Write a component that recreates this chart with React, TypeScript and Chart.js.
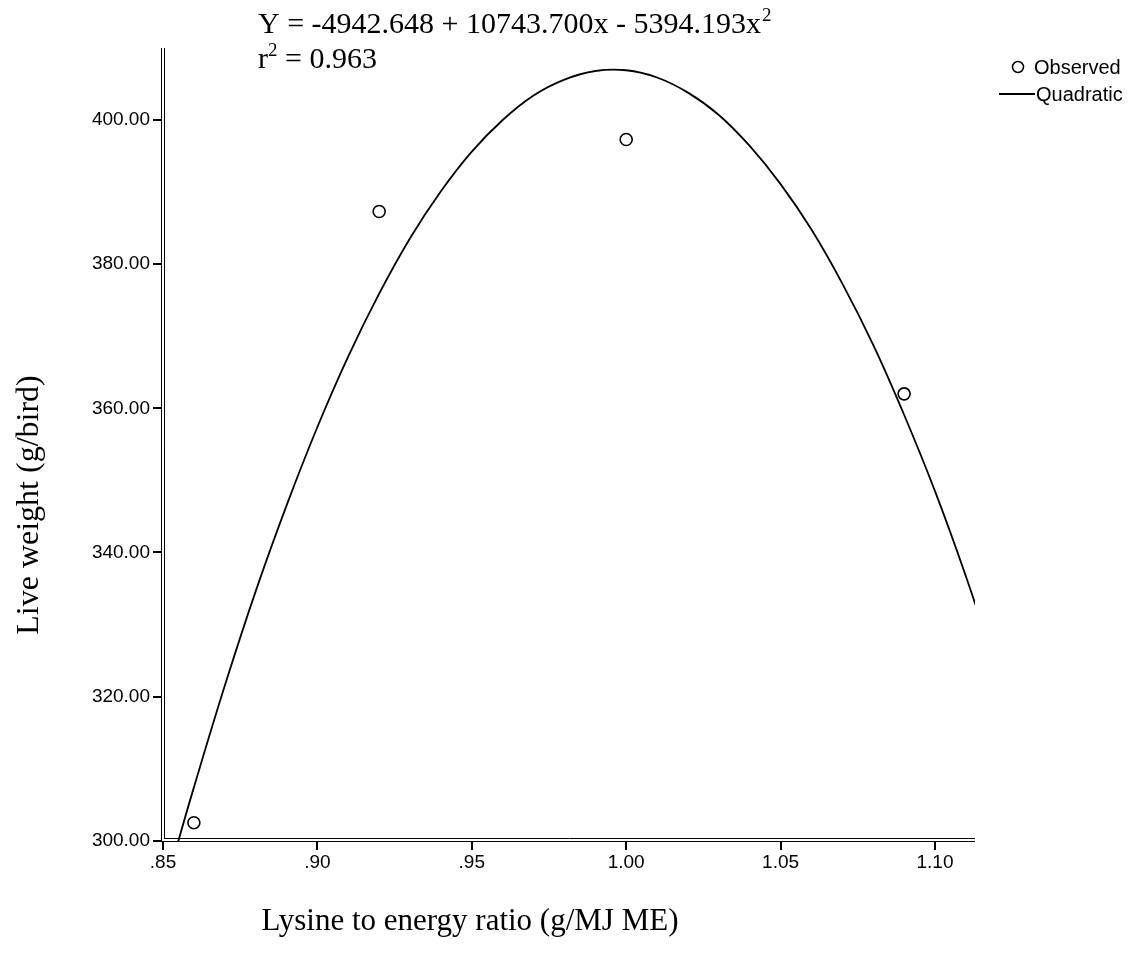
import React, { useEffect, useRef } from "react";
import { Chart, registerables } from "chart.js";

Chart.register(...registerables);

// Observed data points
const observedX = [0.86, 0.92, 1.0, 1.09];
const observedY = [302.5, 387.3, 397.3, 362.0];

// Quadratic fit curve
const curveX = [0.85, 0.855, 0.86, 0.87, 0.88, 0.89, 0.9, 0.91, 0.92, 0.93, 0.94, 0.95, 0.96, 0.97, 0.98, 0.99, 1.0, 1.01, 1.02, 1.03, 1.04, 1.05, 1.06, 1.07, 1.08, 1.09, 1.1, 1.11, 1.12];
const curveY = [292.2, 300.0, 307.4, 321.5, 334.6, 346.5, 357.4, 367.2, 375.9, 383.6, 390.1, 395.6, 400.0, 403.4, 405.6, 406.8, 406.9, 405.9, 403.8, 400.7, 396.4, 391.1, 384.8, 377.3, 368.8, 359.1, 348.5, 336.7, 323.8];

const xTicks = [0.85, 0.9, 0.95, 1.0, 1.05, 1.1];
const xTickLabels = [".85", ".90", ".95", "1.00", "1.05", "1.10"];
const yTicks = [300, 320, 340, 360, 380, 400];
const yTickLabels = ["300.00", "320.00", "340.00", "360.00", "380.00", "400.00"];

const equationText = "Y = -4942.648 + 10743.700x - 5394.193x";
const equationSup = "2";
const r2Base = "r";
const r2Sup = "2";
const r2Rest = " = 0.963";
const xTitle = "Lysine to energy ratio (g/MJ ME)";
const yTitle = "Live weight (g/bird)";
const legendLabels = ["Observed", "Quadratic"];

const W = 1142;
const H = 978;
const SERIF = '"Liberation Serif", "Times New Roman", serif';
const SANS = '"Liberation Sans", Arial, sans-serif';

const decorPlugin = {
  id: "decor",
  afterDraw(chart: any) {
    const ctx = chart.ctx as CanvasRenderingContext2D;
    const a = chart.chartArea;
    ctx.save();
    // double axis lines
    ctx.strokeStyle = "#000";
    ctx.lineWidth = 1;
    ctx.beginPath();
    ctx.moveTo(a.left + 0.5, a.top);
    ctx.lineTo(a.left + 0.5, a.bottom);
    ctx.moveTo(a.left + 3.5, a.top);
    ctx.lineTo(a.left + 3.5, a.bottom - 3);
    ctx.moveTo(a.left, a.bottom - 0.5);
    ctx.lineTo(a.right, a.bottom - 0.5);
    ctx.moveTo(a.left + 3, a.bottom - 3.5);
    ctx.lineTo(a.right, a.bottom - 3.5);
    ctx.stroke();

    ctx.fillStyle = "#000";
    // equation
    ctx.font = `30px ${SERIF}`;
    ctx.textBaseline = "alphabetic";
    ctx.textAlign = "left";
    const ex = 258;
    ctx.fillText(equationText, ex, 33);
    const ew = ctx.measureText(equationText).width;
    ctx.font = `19px ${SERIF}`;
    ctx.fillText(equationSup, ex + ew + 1, 21);
    // r^2
    ctx.font = `30px ${SERIF}`;
    ctx.fillText(r2Base, ex, 68);
    const rw = ctx.measureText(r2Base).width;
    ctx.font = `19px ${SERIF}`;
    ctx.fillText(r2Sup, ex + rw, 56);
    const sw = ctx.measureText(r2Sup).width;
    ctx.font = `30px ${SERIF}`;
    ctx.fillText(r2Rest, ex + rw + sw, 68);

    // axis titles
    ctx.font = `31px ${SERIF}`;
    ctx.textAlign = "center";
    ctx.textBaseline = "middle";
    ctx.fillText(xTitle, 470, 922);
    ctx.save();
    ctx.translate(30, 505);
    ctx.rotate(-Math.PI / 2);
    ctx.font = `32px ${SERIF}`;
    ctx.fillText(yTitle, 0, 0);
    ctx.restore();

    // legend
    ctx.font = `20px ${SANS}`;
    ctx.textAlign = "left";
    ctx.textBaseline = "middle";
    ctx.lineWidth = 1.5;
    ctx.beginPath();
    ctx.arc(1018, 67, 5.5, 0, Math.PI * 2);
    ctx.fillStyle = "#fff";
    ctx.fill();
    ctx.stroke();
    ctx.fillStyle = "#000";
    ctx.fillText(legendLabels[0], 1034, 68);
    ctx.lineWidth = 2;
    ctx.beginPath();
    ctx.moveTo(999, 94);
    ctx.lineTo(1035, 94);
    ctx.stroke();
    ctx.fillText(legendLabels[1], 1036, 95);
    ctx.restore();
  },
};

export default function App() {
  const ref = useRef<HTMLCanvasElement>(null);
  useEffect(() => {
    if (!ref.current) return;
    const chart = new Chart(ref.current, {
      type: "scatter",
      data: {
        datasets: [
          {
            type: "line",
            label: legendLabels[1],
            data: curveX.map((x, i) => ({ x, y: curveY[i] })),
            borderColor: "#000",
            borderWidth: 1.8,
            pointRadius: 0,
            tension: 0.4,
            fill: false,
          } as any,
          {
            label: legendLabels[0],
            data: observedX.map((x, i) => ({ x, y: observedY[i] })),
            pointStyle: "circle",
            pointRadius: 6,
            pointBorderWidth: 1.6,
            pointBorderColor: "#000",
            pointBackgroundColor: "#fff",
            borderColor: "#000",
            backgroundColor: "#fff",
          },
        ],
      },
      options: {
        responsive: false,
        animation: false,
        layout: { padding: { left: 0, top: 48, right: 167, bottom: 0 } },
        plugins: { legend: { display: false }, tooltip: { enabled: false } },
        scales: {
          x: {
            type: "linear",
            min: 0.84935,
            max: 1.11296,
            afterFit: (s: any) => {
              s.height = 136;
            },
            afterBuildTicks: (s: any) => {
              s.ticks = xTicks.map((v) => ({ value: v }));
            },
            ticks: {
              color: "#000",
              font: { family: SANS, size: 19 },
              padding: 1,
              maxRotation: 0,
              autoSkip: false,
              callback: (_v: any, i: number) => xTickLabels[i],
            },
            grid: { drawOnChartArea: false, drawTicks: true, tickLength: 8, color: "#000", lineWidth: 2 },
            border: { display: false },
          },
          y: {
            type: "linear",
            min: 299.82,
            max: 409.99,
            afterFit: (s: any) => {
              s.width = 161;
            },
            afterBuildTicks: (s: any) => {
              s.ticks = yTicks.map((v) => ({ value: v }));
            },
            ticks: {
              color: "#000",
              font: { family: SANS, size: 19 },
              padding: 3,
              autoSkip: false,
              callback: (_v: any, i: number) => yTickLabels[i],
            },
            grid: { drawOnChartArea: false, drawTicks: true, tickLength: 8, color: "#000", lineWidth: 2 },
            border: { display: false },
          },
        },
      },
      plugins: [decorPlugin],
    });
    return () => chart.destroy();
  }, []);
  return (
    <div style={{ position: "absolute", left: 0, top: 0, width: W, height: H, background: "#fff" }}>
      <canvas ref={ref} width={W} height={H} style={{ width: W, height: H, display: "block" }} />
    </div>
  );
}
